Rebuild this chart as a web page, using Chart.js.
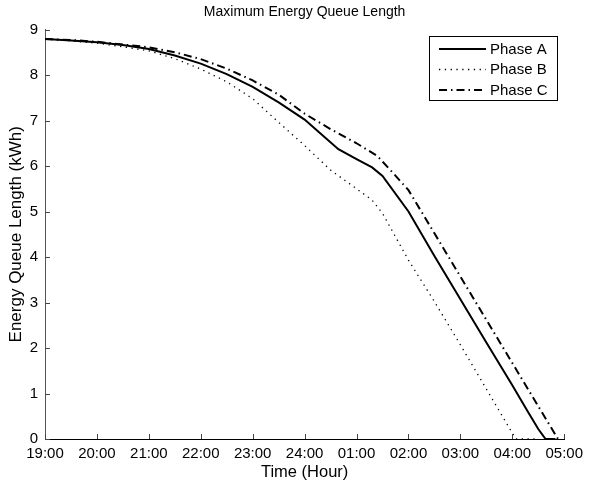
<!DOCTYPE html>
<html>
<head>
<meta charset="utf-8">
<style>
  html, body { margin: 0; padding: 0; background: #fff; }
  #wrap { width: 589px; height: 485px; }
</style>
<script src="https://cdn.jsdelivr.net/npm/chart.js@4/dist/chart.umd.min.js"></script>
</head>
<body>
<div id="wrap"><canvas id="c" width="589" height="485"></canvas></div>
<script>
// ---- data (hours after 19:00) ----
const xTickLabels = ['19:00','20:00','21:00','22:00','23:00','24:00','01:00','02:00','03:00','04:00','05:00'];
const yTicks = [0,1,2,3,4,5,6,7,8,9];

const hoursA = [0, 0.5, 1.0, 1.5, 2.0, 2.5, 3.0, 3.5, 4.0, 4.5, 5.0, 5.3, 5.65, 6.0, 6.3, 6.5, 7.0, 7.5, 8.0, 8.5, 9.0, 9.3, 9.5, 9.64, 9.83];
const phaseA = [8.79, 8.76, 8.72, 8.66, 8.57, 8.43, 8.25, 8.02, 7.74, 7.40, 7.02, 6.72, 6.37, 6.15, 5.97, 5.78, 5.00, 4.02, 3.07, 2.12, 1.18, 0.60, 0.22, 0, 0];

const hoursB = [0, 0.5, 1.0, 1.5, 2.0, 2.5, 3.0, 3.5, 4.0, 4.5, 5.0, 5.5, 6.0, 6.3, 6.5, 7.0, 7.5, 8.0, 8.5, 9.0, 9.07, 9.48];
const phaseB = [8.79, 8.75, 8.70, 8.62, 8.53, 8.36, 8.13, 7.85, 7.48, 6.96, 6.45, 5.91, 5.50, 5.25, 4.96, 3.93, 3.02, 2.07, 1.10, 0.13, 0, 0];

const hoursC = [0, 0.5, 1.0, 1.5, 2.0, 2.5, 3.0, 3.5, 4.0, 4.5, 5.0, 5.5, 6.0, 6.4, 6.7, 7.0, 7.5, 8.0, 8.5, 9.0, 9.5, 9.88];
const phaseC = [8.79, 8.77, 8.73, 8.67, 8.61, 8.50, 8.35, 8.14, 7.88, 7.57, 7.15, 6.81, 6.50, 6.22, 5.85, 5.47, 4.52, 3.57, 2.62, 1.67, 0.72, 0];

const seriesNames = ['Phase A', 'Phase B', 'Phase C'];

function pts(xs, ys) { return xs.map((x, i) => ({ x: x, y: ys[i] })); }

const FONT = '"Liberation Sans", Arial, Helvetica, sans-serif';

// inward tick marks, drawn through the chart's scales
const innerTicks = {
  id: 'innerTicks',
  afterDraw(chart) {
    const ctx = chart.ctx, xs = chart.scales.x, ys = chart.scales.y, a = chart.chartArea;
    ctx.save();
    ctx.strokeStyle = '#444';
    ctx.lineWidth = 1;
    ctx.beginPath();
    xs.ticks.forEach(t => {
      const px = Math.round(xs.getPixelForValue(t.value)) + 0.5;
      ctx.moveTo(px, a.bottom); ctx.lineTo(px, a.bottom - 5);
    });
    ys.ticks.forEach(t => {
      const py = Math.round(ys.getPixelForValue(t.value)) + 0.5;
      ctx.moveTo(a.left, py); ctx.lineTo(a.left + 5, py);
    });
    ctx.stroke();
    ctx.restore();
  }
};

// boxed legend in the upper right, MATLAB style
const boxLegend = {
  id: 'boxLegend',
  afterDraw(chart) {
    const ctx = chart.ctx;
    const bx = 429, by = 36, bw = 128, bh = 64;
    ctx.save();
    ctx.fillStyle = '#fff';
    ctx.fillRect(bx, by, bw, bh);
    ctx.strokeStyle = '#000';
    ctx.lineWidth = 1;
    ctx.strokeRect(bx + 0.5, by + 0.5, bw, bh);
    ctx.font = '15px ' + FONT;
    ctx.textBaseline = 'middle';
    ctx.textAlign = 'left';
    chart.data.datasets.forEach((ds, i) => {
      const cy = by + 13 + i * 20.5;
      ctx.beginPath();
      ctx.setLineDash(ds.borderDash || []);
      ctx.lineWidth = ds.borderWidth;
      ctx.strokeStyle = ds.borderColor;
      ctx.moveTo(bx + 10, cy); ctx.lineTo(bx + 57, cy);
      ctx.stroke();
      ctx.setLineDash([]);
      ctx.fillStyle = '#000';
      ctx.fillText(ds.label, bx + 61, cy + 0.5);
    });
    ctx.restore();
  }
};

new Chart(document.getElementById('c'), {
  type: 'line',
  data: {
    datasets: [
      { label: seriesNames[0], data: pts(hoursA, phaseA), borderColor: '#000', borderWidth: 2, pointRadius: 0, tension: 0, fill: false },
      { label: seriesNames[1], data: pts(hoursB, phaseB), borderColor: '#000', borderWidth: 1.3, borderDash: [1.3, 4.5], pointRadius: 0, tension: 0, fill: false },
      { label: seriesNames[2], data: pts(hoursC, phaseC), borderColor: '#000', borderWidth: 2, borderDash: [8, 4, 1.5, 4], pointRadius: 0, tension: 0, fill: false }
    ]
  },
  options: {
    responsive: false,
    animation: false,
    layout: { padding: { left: 0, right: 22, top: 0, bottom: 0 } },
    plugins: {
      legend: { display: false },
      tooltip: { enabled: false },
      title: {
        display: true,
        fullSize: false,
        text: 'Maximum Energy Queue Length',
        color: '#000',
        font: { family: FONT, size: 14, weight: 'normal' },
        padding: { top: 3.6, bottom: 9.1 }
      }
    },
    scales: {
      x: {
        type: 'linear',
        min: 0, max: 10,
        afterFit(s) { s.height = 46; },
        grid: { display: false, drawTicks: false, tickLength: 0 },
        border: { display: true, color: '#000', width: 1 },
        ticks: {
          stepSize: 1, color: '#000', padding: 6, maxRotation: 0, autoSkip: false,
          font: { family: FONT, size: 15 },
          callback: (v) => xTickLabels[v]
        },
        title: { display: true, text: 'Time (Hour)', color: '#000', font: { family: FONT, size: 16.5 }, padding: { top: 0, bottom: 3 } }
      },
      y: {
        min: 0, max: 9,
        afterFit(s) { s.width = 45; },
        grid: { display: false, drawTicks: false, tickLength: 0 },
        border: { display: true, color: '#555', width: 1 },
        ticks: {
          stepSize: 1, color: '#000', padding: 7,
          font: { family: FONT, size: 15 },
          callback: (v) => (yTicks.includes(v) ? String(v) : '')
        },
        title: { display: true, text: 'Energy Queue Length (kWh)', color: '#000', font: { family: FONT, size: 17 }, padding: { top: 6.5, bottom: 0 } }
      }
    }
  },
  plugins: [innerTicks, boxLegend]
});
</script>
</body>
</html>
